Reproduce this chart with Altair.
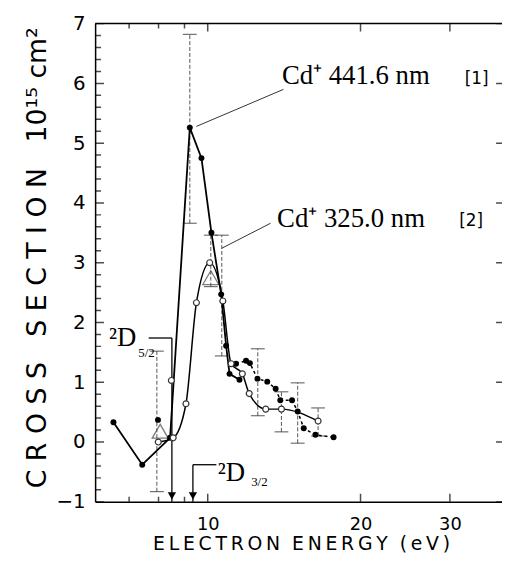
import altair as alt
import pandas as pd

# ---- data ----
# Cd+ 441.6 nm [1]  (filled circles, solid curve)
E_441 = [6.52, 7.43, 8.43, 9.22, 9.72, 10.17, 10.63, 10.87, 11.04, 11.55]
S_441 = [0.33, -0.38, 0.07, 5.26, 4.75, 3.50, 2.47, 1.61, 1.14, 1.04]
# filled circles, dashed continuation
E_441B = [11.37, 11.9, 12.11, 12.53, 13.1, 13.61, 13.9, 14.66, 15.04, 15.46, 16.3, 17.7]
S_441B = [1.31, 1.36, 1.32, 1.06, 1.01, 0.89, 0.70, 0.70, 0.51, 0.23, 0.12, 0.08]
# Cd+ 325.0 nm [2]  (open circles)
E_325 = [7.99, 8.55, 9.06, 9.5, 10.09, 10.71, 11.12, 11.7, 12.07, 13.01, 13.97, 16.5]
S_325 = [0.0, 0.07, 0.64, 2.33, 3.0, 2.36, 1.31, 1.14, 0.81, 0.55, 0.55, 0.35]
# isolated points
E_FILLED_X = [7.98]
S_FILLED_X = [0.37]
E_OPEN_X = [8.48]
S_OPEN_X = [1.03]
E_TRI = [8.06, 10.14]
S_TRI = [0.18, 2.75]
# error bars
EB_E = [7.94, 9.22, 10.14, 10.66, 12.55, 13.97, 15.04, 16.5]
EB_LO = [-0.83, 3.66, 2.6, 1.44, 0.44, 0.17, -0.02, 0.1]
EB_HI = [1.52, 6.82, 3.46, 3.46, 1.56, 0.84, 0.99, 0.57]
# threshold arrows (2D5/2, 2D3/2)
ARROW_E = [8.5, 9.35]
ARROW_TOP = [1.74, -0.38]
ARROW_TIP = [-0.9, -0.9]
BAR_E1 = [7.65, 9.35]
BAR_E2 = [8.5, 10.4]

# axes ticks / labels
X_LABELS = [10, 20, 30]
X_MINOR = [7, 8, 9]
Y_LABELS = [-1, 0, 1, 2, 3, 4, 5, 6, 7]
Y_MINOR = [-0.8, -0.6, -0.4, -0.2, 0.2, 0.4, 0.6, 0.8, 1.2, 1.4, 1.6, 1.8,
           2.2, 2.4, 2.6, 2.8, 3.2, 3.4, 3.6, 3.8, 4.2, 4.4, 4.6, 4.8,
           5.2, 5.4, 5.6, 5.8, 6.2, 6.4, 6.6, 6.8]
X_MIN, X_MAX = 6, 38
Y_MIN, Y_MAX = -1, 7

xs = alt.Scale(type="log", domain=[X_MIN, X_MAX], nice=False)
ys = alt.Scale(domain=[Y_MIN, Y_MAX], nice=False)

TS = "\u2009"
NB = "\u00a0"
xtitle = TS.join("ELECTRON") + NB * 2 + TS.join("ENERGY") + NB * 2 + TS.join("(eV)")
ytitle = NB.join("CROSS") + NB * 3 + NB.join("SECTION") + NB * 3 + "10\u00b9\u2075" + NB + "cm\u00b2"

xaxis = alt.Axis(values=X_LABELS, format="d", ticks=False, grid=False,
                 domainColor="black", domainWidth=1.5,
                 labelFont="DejaVu Sans", labelFontSize=18, labelColor="black",
                 labelPadding=14, labelFlush=False,
                 title=xtitle, titleFont="DejaVu Sans", titleFontSize=19,
                 titleFontWeight="normal", titleColor="black",
                 titleX=208, titleY=48, titleBaseline="alphabetic", titleAlign="center")
yaxis = alt.Axis(values=Y_LABELS, ticks=False, grid=False,
                 domainColor="black", domainWidth=1.5,
                 labelFont="DejaVu Sans", labelFontSize=20, labelColor="black",
                 labelPadding=10, labelFlush=False,
                 title=ytitle, titleFont="DejaVu Sans", titleFontSize=27,
                 titleFontWeight="normal", titleColor="black", titleAngle=270,
                 titleX=-50, titleY=236, titleBaseline="alphabetic", titleAlign="center")

X = alt.X("E:Q", scale=xs, axis=xaxis)
Y = alt.Y("S:Q", scale=ys, axis=yaxis)


def df(e, s, **extra):
    d = {"E": e, "S": s}
    d.update(extra)
    return pd.DataFrame(d)


layers = []

# frame ticks (inward, drawn via clipped ticks on the edges)
layers.append(alt.Chart(df([X_MIN] * len(Y_MINOR), Y_MINOR)).mark_tick(
    orient="horizontal", size=12, thickness=1.5, color="black", clip=True).encode(x=X, y=Y))
layers.append(alt.Chart(df([X_MIN] * len(Y_LABELS), Y_LABELS)).mark_tick(
    orient="horizontal", size=18, thickness=1.5, color="black", clip=True).encode(x=X, y=Y))
layers.append(alt.Chart(df([X_MAX] * len(Y_LABELS), Y_LABELS)).mark_tick(
    orient="horizontal", size=12, thickness=1.5, color="black", clip=True).encode(x=X, y=Y))
for yv in (Y_MIN, Y_MAX):
    layers.append(alt.Chart(df(X_MINOR, [yv] * len(X_MINOR))).mark_tick(
        orient="vertical", size=10, thickness=1.5, color="black", clip=True).encode(x=X, y=Y))
    layers.append(alt.Chart(df(X_LABELS, [yv] * len(X_LABELS))).mark_tick(
        orient="vertical", size=16, thickness=1.5, color="black", clip=True).encode(x=X, y=Y))
# top frame line
layers.append(alt.Chart(df([X_MIN], [Y_MAX], E2=[X_MAX])).mark_rule(
    color="black", strokeWidth=1.5).encode(x=X, y=Y, x2="E2:Q"))

# error bars
layers.append(alt.Chart(df(EB_E, EB_LO, S2=EB_HI)).mark_rule(
    color="#555555", strokeWidth=1, strokeDash=[4, 2]).encode(x=X, y=Y, y2="S2:Q"))
layers.append(alt.Chart(df(EB_E + EB_E, EB_LO + EB_HI)).mark_tick(
    orient="horizontal", size=14, thickness=1.2, color="#333333").encode(x=X, y=Y))

# threshold arrows
layers.append(alt.Chart(df(ARROW_E, ARROW_TOP, S2=[Y_MIN, Y_MIN])).mark_rule(
    color="black", strokeWidth=1.3).encode(x=X, y=Y, y2="S2:Q"))
layers.append(alt.Chart(df(BAR_E1, ARROW_TOP, E2=BAR_E2)).mark_rule(
    color="black", strokeWidth=1.3).encode(x=X, y=Y, x2="E2:Q"))
layers.append(alt.Chart(df(ARROW_E, ARROW_TIP)).mark_point(
    shape="triangle-down", size=70, filled=True, color="black", opacity=1).encode(x=X, y=Y))

# triangles
layers.append(alt.Chart(df(E_TRI, S_TRI)).mark_point(
    shape="triangle-up", size=260, filled=False, color="#444444", strokeWidth=1.3).encode(x=X, y=Y))

# curves
layers.append(alt.Chart(df(E_441, S_441)).mark_line(
    color="black", strokeWidth=1.8).encode(x=X, y=Y))
layers.append(alt.Chart(df(E_441B, S_441B)).mark_line(
    color="black", strokeWidth=1.5, strokeDash=[3, 3]).encode(x=X, y=Y))
layers.append(alt.Chart(df(E_325, S_325)).mark_line(
    color="black", strokeWidth=1.5, interpolate="monotone").encode(x=X, y=Y))

# markers
layers.append(alt.Chart(df(E_441 + E_441B + E_FILLED_X, S_441 + S_441B + S_FILLED_X)).mark_circle(
    size=36, color="black", opacity=1).encode(x=X, y=Y))
layers.append(alt.Chart(df(E_325 + E_OPEN_X, S_325 + S_OPEN_X)).mark_point(
    shape="circle", size=36, filled=True, fill="white", stroke="#333333", strokeWidth=1.2,
    opacity=1).encode(x=X, y=Y))

# annotation leader lines
LEAD_E1 = [9.5, 10.65]
LEAD_S1 = [5.28, 3.24]
LEAD_E2 = [14.1, 13.3]
LEAD_S2 = [5.9, 3.66]
layers.append(alt.Chart(df(LEAD_E1, LEAD_S1, E2=LEAD_E2, S2=LEAD_S2)).mark_rule(
    color="#333333", strokeWidth=1).encode(x=X, y=Y, x2="E2:Q", y2="S2:Q"))

# labels
LBL_TEXT = ["Cd\u207a 441.6 nm", "Cd\u207a 325.0 nm"]
LBL_E = [14.0, 13.7]
LBL_S = [6.13, 3.73]
REF_TEXT = ["[1]", "[2]"]
REF_E = [32.1, 31.3]
REF_S = [6.08, 3.7]
layers.append(alt.Chart(df(LBL_E, LBL_S, t=LBL_TEXT)).mark_text(
    align="left", baseline="middle", font="Liberation Serif", fontSize=27,
    color="black").encode(x=X, y=Y, text="t:N"))
layers.append(alt.Chart(df(REF_E, REF_S, t=REF_TEXT)).mark_text(
    align="left", baseline="middle", font="DejaVu Sans", fontSize=17,
    color="black").encode(x=X, y=Y, text="t:N"))

D_TEXT = ["\u00b2D", "\u00b2D"]
D_E = [6.39, 10.46]
D_S = [1.6, -0.65]
SUB_TEXT = ["5/2", "3/2"]
SUB_E = [7.3, 12.18]
SUB_S = [1.42, -0.73]
layers.append(alt.Chart(df(D_E, D_S, t=D_TEXT)).mark_text(
    align="left", baseline="alphabetic", font="Liberation Serif", fontSize=27,
    color="black").encode(x=X, y=Y, text="t:N"))
layers.append(alt.Chart(df(SUB_E, SUB_S, t=SUB_TEXT)).mark_text(
    align="left", baseline="alphabetic", font="Liberation Serif", fontSize=13,
    color="black").encode(x=X, y=Y, text="t:N"))

chart = alt.layer(*layers).properties(
    width=411, height=483,
    autosize=alt.AutoSizeParams(type="none"),
    padding={"left": 88, "top": 13, "right": 0, "bottom": 52},
    background="white",
).configure_view(stroke="transparent")

chart.save("out.html", embed_options={"renderer": "svg", "actions": False})
